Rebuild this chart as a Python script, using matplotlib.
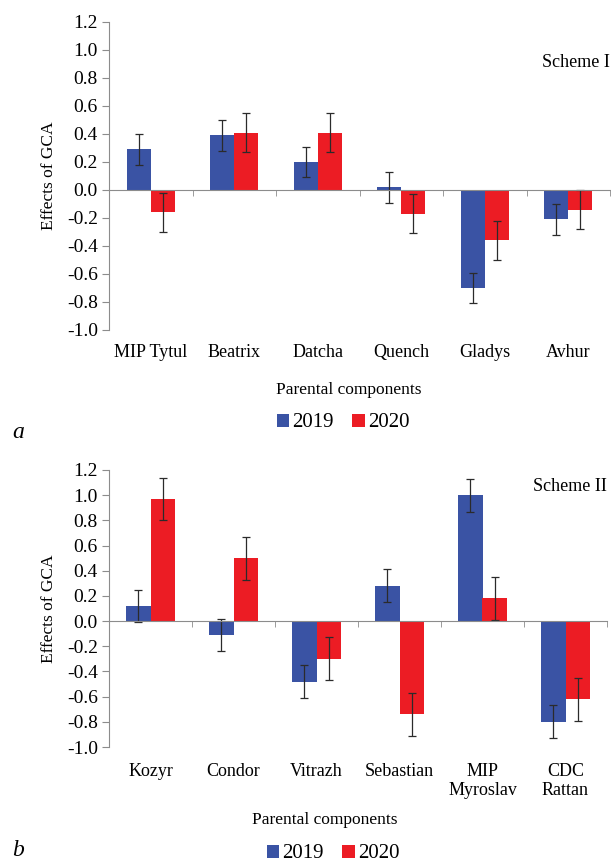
import numpy as np
import matplotlib
matplotlib.use("Agg")
import matplotlib.pyplot as plt

plt.rcParams['font.family'] = ['Liberation Serif', 'DejaVu Serif']

cats_a = ["MIP Tytul", "Beatrix", "Datcha", "Quench", "Gladys", "Avhur"]
a_2019 = [0.29, 0.39, 0.20, 0.02, -0.70, -0.21]
a_2020 = [-0.16, 0.41, 0.41, -0.17, -0.36, -0.14]
a_err_2019 = [0.11, 0.11, 0.11, 0.11, 0.11, 0.11]
a_err_2020 = [0.14, 0.14, 0.14, 0.14, 0.14, 0.14]

cats_b = ["Kozyr", "Condor", "Vitrazh", "Sebastian", "MIP\nMyroslav", "CDC\nRattan"]
b_2019 = [0.12, -0.11, -0.48, 0.28, 1.00, -0.80]
b_2020 = [0.97, 0.50, -0.30, -0.74, 0.18, -0.62]
b_err_2019 = [0.13, 0.13, 0.13, 0.13, 0.13, 0.13]
b_err_2020 = [0.17, 0.17, 0.17, 0.17, 0.17, 0.17]

yticks = [1.2, 1.0, 0.8, 0.6, 0.4, 0.2, 0.0, -0.2, -0.4, -0.6, -0.8, -1.0]
series = ["2019", "2020"]

BLUE = "#3A53A4"
RED = "#EC1C24"
SPINE = "#8c8c8c"

fig = plt.figure(figsize=(6.11, 8.64), dpi=100)

def draw(rect, cats, v19, v20, e19, e20, scheme, label_off, xlab_pos, leg_pos, letter_pos, scheme_y, letter):
    ax = fig.add_axes(rect)
    x = np.arange(len(cats))
    w = 0.29
    ekw = dict(ecolor="#2b2b2b", elinewidth=0.9, capsize=3, capthick=0.9)
    b1 = ax.bar(x - w / 2, v19, w, color=BLUE, yerr=e19, error_kw=ekw, label=series[0], zorder=2)
    b2 = ax.bar(x + w / 2, v20, w, color=RED, yerr=e20, error_kw=ekw, label=series[1], zorder=2)
    ax.set_xlim(-0.5, len(cats) - 0.5)
    ax.set_ylim(-1.0, 1.2)
    ax.set_yticks(yticks)
    ax.set_yticklabels([f"{t:.1f}" for t in yticks], fontsize=14)
    ax.tick_params(axis='y', direction='out', length=5, color=SPINE, pad=3)
    for s in ['top', 'right']:
        ax.spines[s].set_visible(False)
    ax.spines['left'].set_color(SPINE)
    ax.spines['bottom'].set_position(('data', 0))
    ax.spines['bottom'].set_color(SPINE)
    ax.set_xticks(x)
    ax.set_xticklabels([])
    ax.tick_params(axis='x', which='major', length=0)
    ax.set_xticks(np.arange(-0.5, len(cats), 1.0), minor=True)
    ax.tick_params(axis='x', which='minor', direction='out', length=4, color=SPINE)
    tr = ax.get_xaxis_transform()
    for xi, c in zip(x, cats):
        ax.text(xi, label_off, c, transform=tr, ha='center', va='top', fontsize=13, linespacing=1.15)
    ax.set_ylabel("Effects of GCA", fontsize=12.5, labelpad=7)
    ax.text(1.0, scheme_y, scheme, transform=ax.transAxes, ha='right', va='center', fontsize=13)
    fig.text(xlab_pos[0], xlab_pos[1], "Parental components", ha='center', va='center', fontsize=12.5)
    fig.legend(handles=[b1, b2], labels=series, loc='center', bbox_to_anchor=leg_pos, ncol=2,
               frameon=False, fontsize=15, handlelength=0.6, handleheight=0.6,
               handletextpad=0.15, columnspacing=0.9, borderaxespad=0, borderpad=0)
    fig.text(letter_pos[0], letter_pos[1], letter, ha='left', va='center', fontsize=17, style='italic')
    return ax

draw([109 / 611, 1 - 330 / 864, 501 / 611, 308 / 864], cats_a, a_2019, a_2020, a_err_2019, a_err_2020,
     "Scheme I", -0.045, (349 / 611, 1 - 390 / 864), (343 / 611, 1 - 423 / 864), (12 / 611, 1 - 432 / 864),
     0.87, "a")
draw([109 / 611, 1 - 747 / 864, 498 / 611, 277 / 864], cats_b, b_2019, b_2020, b_err_2019, b_err_2020,
     "Scheme II", -0.058, (325 / 611, 1 - 820 / 864), (333 / 611, 1 - 854 / 864), (12 / 611, 1 - 850 / 864),
     0.939, "b")

fig.savefig("out.png", dpi=100)
